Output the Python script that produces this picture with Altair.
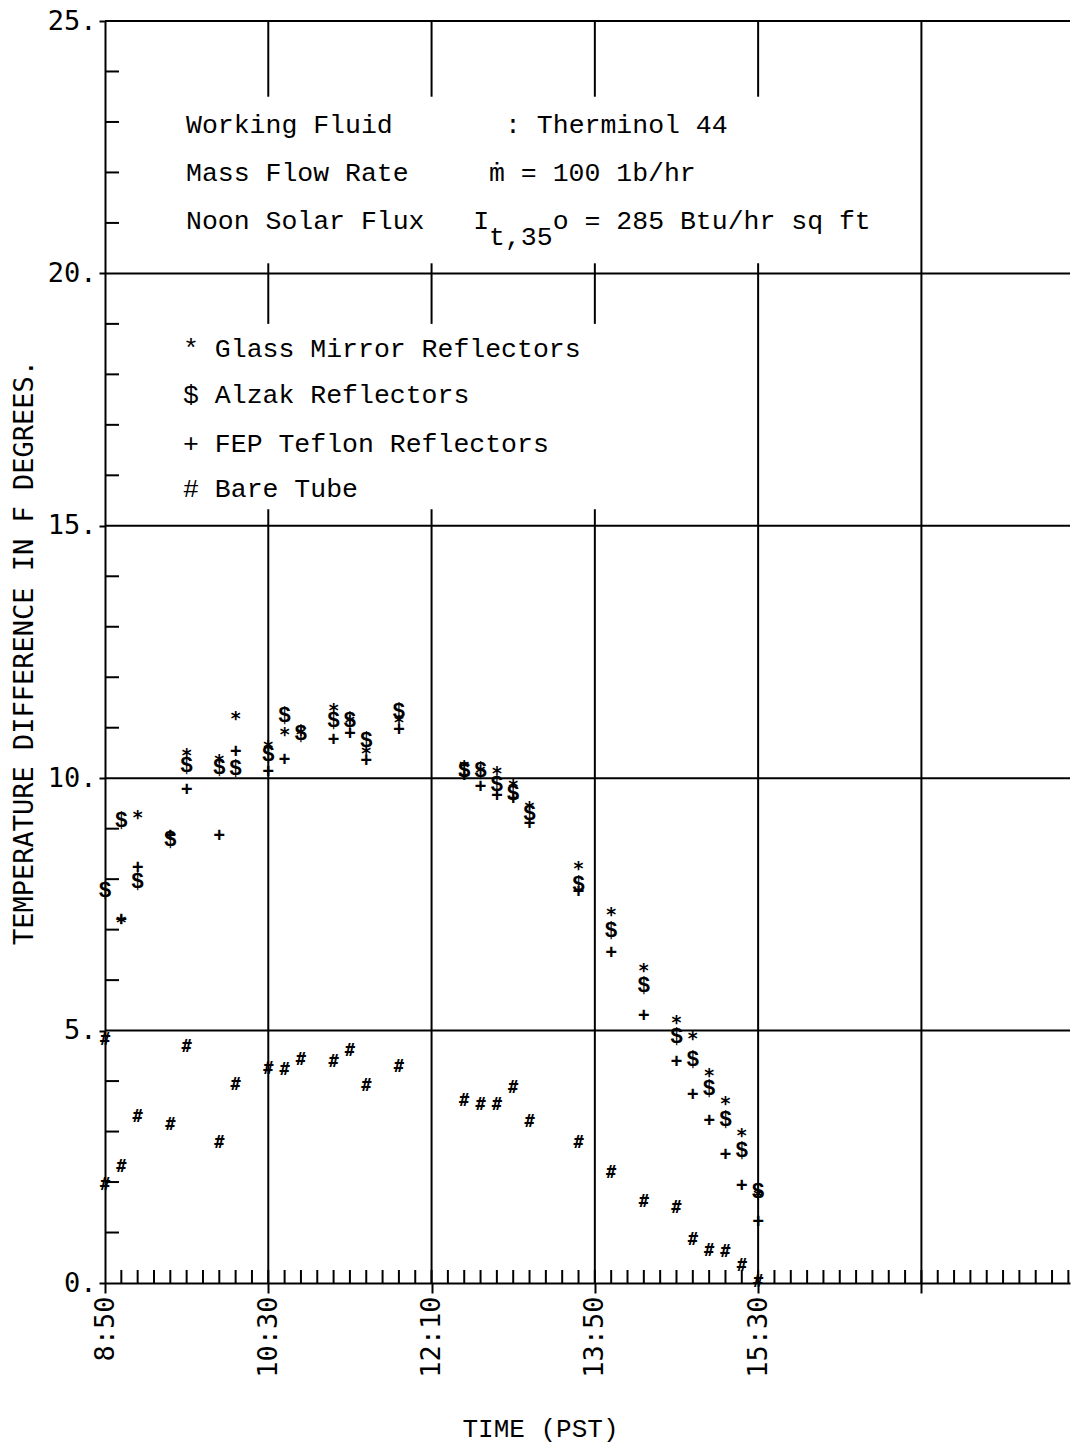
import altair as alt
import pandas as pd

# ---------------- data ----------------
glass_times = ["9:00", "9:10", "9:40", "10:00", "10:10", "10:30", "10:40", "10:50",
               "11:10", "11:20", "11:30", "11:50", "12:30", "12:40", "12:50", "13:00",
               "13:10", "13:40", "14:00", "14:20", "14:40", "14:50", "15:00", "15:10",
               "15:20", "15:30"]
glass_vals = [7.24, 9.32, 10.53, 10.42, 11.27, 10.70, 10.96, 10.95,
              11.43, 11.20, 10.57, 11.19, 10.30, 10.20, 10.18, 9.93,
              9.48, 8.30, 7.38, 6.28, 5.25, 4.93, 4.20, 3.64,
              3.01, 1.80]

alzak_times = ["8:50", "9:00", "9:10", "9:30", "9:40", "10:00", "10:10", "10:30",
               "10:40", "10:50", "11:10", "11:20", "11:30", "11:50", "12:30", "12:40",
               "12:50", "13:00", "13:10", "13:40", "14:00", "14:20", "14:40", "14:50",
               "15:00", "15:10", "15:20", "15:30"]
alzak_vals = [7.78, 9.17, 7.97, 8.79, 10.27, 10.22, 10.20, 10.47,
              11.26, 10.89, 11.15, 11.16, 10.76, 11.33, 10.17, 10.17,
              9.88, 9.71, 9.32, 7.91, 6.99, 5.90, 4.89, 4.43,
              3.87, 3.25, 2.64, 1.83]

teflon_times = ["9:00", "9:10", "9:30", "9:40", "10:00", "10:10", "10:30", "10:40",
                "11:10", "11:20", "11:30", "11:50", "12:30", "12:40", "12:50", "13:00",
                "13:10", "13:40", "14:00", "14:20", "14:40", "14:50", "15:00", "15:10",
                "15:20", "15:30"]
teflon_vals = [7.20, 8.23, 8.85, 9.77, 8.86, 10.52, 10.13, 10.37,
               10.76, 10.88, 10.34, 10.96, 10.05, 9.83, 9.65, 9.58,
               9.09, 7.74, 6.53, 5.28, 4.37, 3.72, 3.20, 2.54,
               1.93, 1.21]

bare_times = ["8:50", "8:50", "9:00", "9:10", "9:30", "9:40", "10:00", "10:10",
              "10:30", "10:40", "10:50", "11:10", "11:20", "11:30", "11:50", "12:30",
              "12:40", "12:50", "13:00", "13:10", "13:40", "14:00", "14:20", "14:40",
              "14:50", "15:00", "15:10", "15:20", "15:30"]
bare_vals = [4.83, 1.97, 2.32, 3.31, 3.15, 4.69, 2.80, 3.94,
             4.26, 4.23, 4.43, 4.39, 4.61, 3.92, 4.29, 3.62,
             3.55, 3.55, 3.88, 3.20, 2.80, 2.19, 1.62, 1.50,
             0.88, 0.65, 0.64, 0.35, 0.03]

x_tick_labels = ["8:50", "10:30", "12:10", "13:50", "15:30", "17:10"]
y_tick_values = [0, 5, 10, 15, 20, 25]
h_grid_values = [5, 10, 15, 20, 25]

# vertical grid line pieces (time, from, to) - broken where the text sits
vgrid_times = ["10:30", "10:30", "10:30", "12:10", "12:10", "12:10",
               "13:50", "13:50", "13:50", "15:30", "15:30", "17:10"]
vgrid_from = [0, 19.0, 23.5, 0, 19.0, 23.5, 0, 19.0, 23.5, 0, 23.5, 0]
vgrid_to = [15.33, 20.2, 25, 15.33, 20.2, 25, 15.33, 20.2, 25, 20.2, 25, 25]

# annotation texts
ann_text = ["Working Fluid", ": Therminol 44",
            "Mass Flow Rate", "\u1e41 = 100 1b/hr",
            "Noon Solar Flux", "I", "t,35", "o = 285 Btu/hr sq ft",
            "* Glass Mirror Reflectors", "$ Alzak Reflectors",
            "+ FEP Teflon Reflectors", "# Bare Tube"]
ann_t = [579.6, 775.0, 579.6, 765.2, 579.6, 755.5, 765.2, 804.2,
         577.8, 577.8, 577.8, 577.8]
ann_v = [22.79, 22.79, 21.83, 21.83, 20.88, 20.88, 20.57, 20.88,
         18.34, 17.43, 16.47, 15.58]


def to_min(s):
    h, m = s.split(":")
    return int(h) * 60 + int(m)


def series_df(times, vals, sym):
    return pd.DataFrame({"t": [to_min(t) for t in times], "v": vals, "sym": sym})


glass = series_df(glass_times, glass_vals, "*")
alzak = series_df(alzak_times, alzak_vals, "$")
teflon = series_df(teflon_times, teflon_vals, "+")
bare = series_df(bare_times, bare_vals, "#")

vgrid = pd.DataFrame({"t": [to_min(s) for s in vgrid_times],
                      "v": vgrid_from, "v2": vgrid_to})
hgrid = pd.DataFrame({"v": h_grid_values})
ymin = pd.DataFrame({"v": [i for i in range(1, 25) if i % 5 != 0]})
xmin = pd.DataFrame({"t": list(range(540, 1121, 10))})
ann = pd.DataFrame({"t": ann_t, "v": ann_v, "txt": ann_text})

x_vals = [to_min(s) for s in x_tick_labels]

W, H = 965, 1262
xs = alt.Scale(domain=[530, 1121], nice=False, zero=False)
ys = alt.Scale(domain=[0, 25], nice=False, zero=False)

x_axis = alt.Axis(
    values=x_vals,
    labelExpr="datum.value > 1000 ? '' : floor(datum.value/60) + ':' + "
              "(datum.value % 60 < 10 ? '0' : '') + (datum.value % 60)",
    labelAngle=270, labelFont="DejaVu Sans Mono", labelFontSize=27,
    labelColor="black", labelPadding=3, labelFlush=False, labelOverlap=False,
    tickSize=10, tickWidth=2, tickColor="black",
    domainColor="black", domainWidth=2, grid=False,
    title="TIME (PST)", titleFont="Liberation Mono", titleFontSize=26,
    titleFontWeight="normal", titleColor="black",
    titleX=435, titleY=153, titleAlign="center", titleBaseline="alphabetic",
    titleAngle=0,
)
y_axis = alt.Axis(
    values=y_tick_values, labelExpr="datum.value + '.'",
    labelFont="DejaVu Sans Mono", labelFontSize=27, labelColor="black",
    labelPadding=3, labelFlush=False, labelOverlap=False,
    tickSize=6, tickWidth=2, tickColor="black",
    domainColor="black", domainWidth=2, grid=False,
    title="TEMPERATURE DIFFERENCE IN F DEGREES.", titleFont="DejaVu Sans Mono",
    titleFontSize=27, titleFontWeight="normal", titleColor="black",
    titlePadding=9,
)


def X(field="t"):
    return alt.X(f"{field}:Q", scale=xs, axis=x_axis)


def Y(field="v"):
    return alt.Y(f"{field}:Q", scale=ys, axis=y_axis)


hgrid_l = alt.Chart(hgrid).mark_rule(color="black", strokeWidth=2).encode(y=Y())
vgrid_l = alt.Chart(vgrid).mark_rule(color="black", strokeWidth=2).encode(
    x=X(), y=Y(), y2="v2:Q")
ymin_l = alt.Chart(ymin).mark_rule(color="black", strokeWidth=2).encode(
    y=Y(), x=alt.value(0), x2=alt.value(14))
xmin_l = alt.Chart(xmin).mark_rule(color="black", strokeWidth=2).encode(
    x=X(), y=alt.value(H), y2=alt.value(H - 13))


def sym_layer(df, font, size, dy):
    return alt.Chart(df).mark_text(
        font=font, fontSize=size, fontWeight="bold", baseline="alphabetic",
        align="center", color="black", dy=dy,
    ).encode(x=X(), y=Y(), text="sym:N")


bare_l = sym_layer(bare, "DejaVu Sans Mono", 17, 6)
teflon_l = sym_layer(teflon, "Liberation Mono", 20, 6)
alzak_l = sym_layer(alzak, "Liberation Mono", 22, 7)
glass_l = sym_layer(glass, "DejaVu Sans Mono", 19, 11)

ann_l = alt.Chart(ann).mark_text(font="Liberation Mono", fontSize=26.5,
                                 baseline="alphabetic", align="left",
                                 color="black").encode(
    x=X(), y=Y(), text="txt:N")

chart = alt.layer(hgrid_l, vgrid_l, ymin_l, xmin_l, bare_l, teflon_l, alzak_l,
                  glass_l, ann_l).properties(
    width=W, height=H,
    autosize=alt.AutoSizeParams(type="none"),
    padding={"left": 97, "top": 13, "right": 3, "bottom": 160},
    background="white",
).configure_view(stroke=None)

chart.save("out.html", embed_options={"renderer": "svg", "actions": False})
